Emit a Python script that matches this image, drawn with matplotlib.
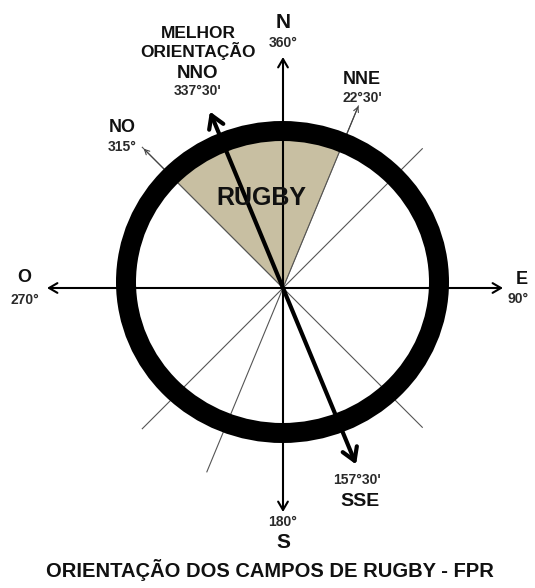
import numpy as np
import matplotlib
matplotlib.use("Agg")
import matplotlib.pyplot as plt
from matplotlib.patches import Ellipse, Polygon

# data: compass directions (degrees, clockwise from north)
main_axes = [0, 90, 180, 270]
thin_lines = [22.5, 45, 135]
thin_arrow_dirs = [22.5, 315]
sector = (315, 382.5)          # shaded "RUGBY" sector (315 -> 22.5)
best_dir = 337.5               # melhor orientacao NNO / SSE

labels = ["N", "E", "S", "O", "NNE", "NO", "NNO", "SSE"]
degrees = ["360°", "90°", "180°", "270°", "22°30'", "315°", "337°30'", "157°30'"]

cx, cy = 283, 288
txt = "#111111"


def pt(ang, r):
    a = np.radians(ang)
    return cx + r * np.sin(a), cy - r * np.cos(a)


plt.rcParams['font.family'] = ['Liberation Sans', 'DejaVu Sans']
fig = plt.figure(figsize=(5.35, 5.88), dpi=100)
ax = fig.add_axes([0, 0, 1, 1])
ax.set_xlim(0, 535)
ax.set_ylim(588, 0)
ax.set_aspect('equal')
ax.axis('off')

# shaded sector
arc = np.linspace(sector[0], sector[1], 60)
verts = [(cx, cy)] + [pt(a, 152) for a in arc]
ax.add_patch(Polygon(verts, closed=True, facecolor='#c8bfa2', edgecolor='#8a8270', lw=0.6, zorder=1))

# thin lines through centre
for a in thin_lines:
    x0, y0 = pt(a, 197)
    x1, y1 = pt(a + 180, 199)
    ax.plot([x0, x1], [y0, y1], color='#555555', lw=0.8, zorder=2)
for a in thin_arrow_dirs:
    ax.annotate('', xy=pt(a, 197), xytext=pt(a, 150),
                arrowprops=dict(arrowstyle='->,head_length=0.35,head_width=0.18',
                                color='#444444', lw=0.8, shrinkA=0, shrinkB=0), zorder=2)

# main axes N-S and E-O
for a, r1, r2 in [(0, 231, 224), (90, 220, 236)]:
    ax.annotate('', xy=pt(a, r1), xytext=pt(a + 180, r2),
                arrowprops=dict(arrowstyle='<->,head_length=0.6,head_width=0.35',
                                color='black', lw=1.5, shrinkA=0, shrinkB=0), zorder=3)

# best orientation arrow
ax.annotate('', xy=pt(best_dir, 191), xytext=pt(best_dir - 180, 191),
            arrowprops=dict(arrowstyle='<->,head_length=0.9,head_width=0.55',
                            color='black', lw=3, shrinkA=0, shrinkB=0), zorder=4)

# ring
ax.add_patch(Ellipse((282.5, 282), 313, 302, fill=False, edgecolor='black', lw=14.4, zorder=5))

ax.text(261, 198, "RUGBY", fontsize=18, fontweight='bold', color=txt,
        ha='center', va='center', zorder=6)

# direction labels
lab_pos = {
    "N": (283, 22, 15), "E": (522, 280, 13), "S": (283, 543, 15), "O": (24, 278, 13),
    "NNE": (362, 80, 13), "NO": (122, 128, 13), "NNO": (198, 73, 13.5), "SSE": (360, 502, 14),
}
deg_pos = {
    "N": (283, 43), "E": (518, 299), "S": (283, 522), "O": (25, 300),
    "NNE": (362, 98), "NO": (122, 147), "NNO": (198, 91), "SSE": (357, 480),
}
for lab, deg in zip(labels, degrees):
    x, y, fs = lab_pos[lab]
    ax.text(x, y, lab, fontsize=fs, fontweight='bold', color=txt, ha='center', va='center')
    dx, dy = deg_pos[lab]
    ax.text(dx, dy, deg, fontsize=10, fontweight='bold', color='#2a2a2a', ha='center', va='center')

ax.text(198, 43, "MELHOR\nORIENTAÇÃO", fontsize=12.5, fontweight='bold', color=txt,
        ha='center', va='center', linespacing=1.0)

ax.text(270, 570, "ORIENTAÇÃO DOS CAMPOS DE RUGBY - FPR", fontsize=14.5, fontweight='bold',
        color=txt, ha='center', va='center')

fig.savefig("out.png", dpi=100)
